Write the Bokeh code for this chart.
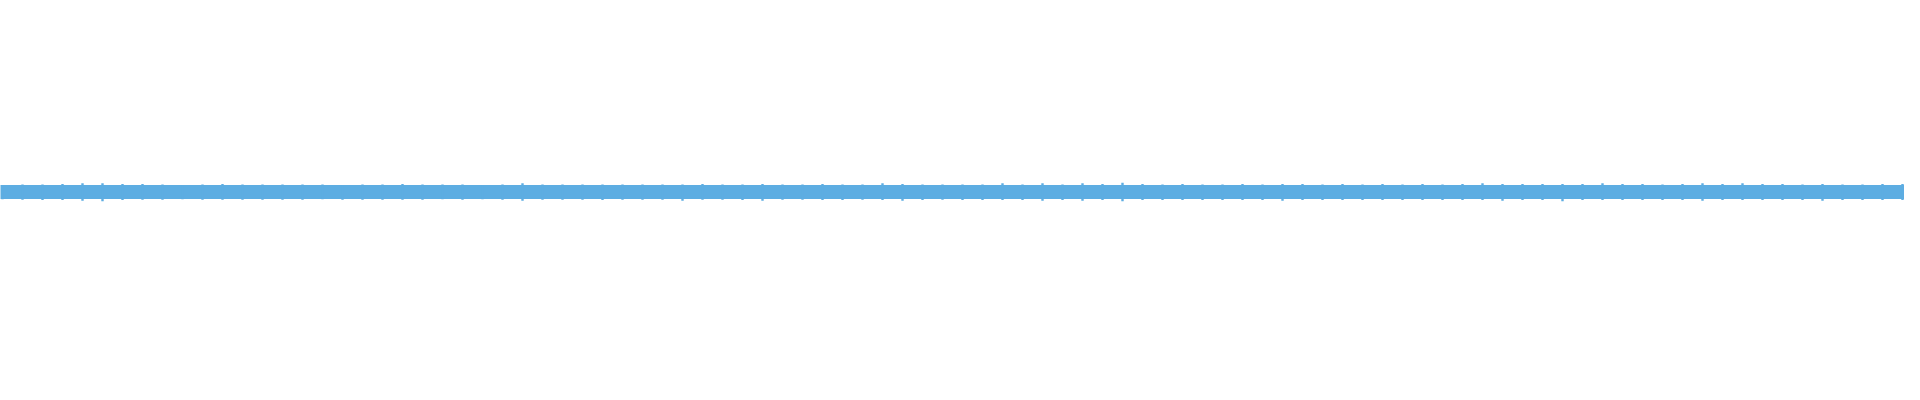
from bokeh.plotting import figure
from bokeh.models import ColumnDataSource
from bokeh.embed import file_html
from bokeh.resources import INLINE

# Waveform envelope, 96 bins across the track (amplitude as fraction of full scale, 1 px = 0.005)
core_hi = [0.0380] * 97
core_lo = [0.0320] * 97

peak_hi_px = [7.4, 8.0, 8.0, 8.6, 9.2, 9.2, 8.6, 8.6, 8.0, 7.6, 8.0, 8.6, 8.0, 8.0, 8.0, 8.0, 8.0, 7.6, 8.0, 8.0, 8.6, 8.0, 8.0, 8.0,
              7.6, 8.0, 9.2, 8.0, 8.0, 8.0, 8.0, 8.0, 8.0, 8.0, 8.0, 8.6, 8.0, 8.0, 8.6, 8.0, 8.0, 8.6, 8.0, 8.0, 9.2, 8.6, 8.0, 8.0,
              8.0, 8.0, 9.2, 8.0, 9.2, 8.0, 9.2, 8.6, 9.8, 8.6, 8.0, 8.6, 8.0, 8.0, 8.6, 8.0, 8.6, 8.6, 8.0, 8.6, 8.0, 8.6, 8.0, 8.6,
              8.0, 8.6, 9.2, 8.6, 8.6, 8.6, 8.6, 8.6, 9.2, 8.6, 8.6, 8.0, 8.6, 9.2, 8.6, 9.2, 8.6, 8.6, 8.0, 8.6, 8.0, 8.0, 8.6, 8.6]
peak_lo_px = [6.8, 7.2, 7.6, 7.6, 8.2, 8.8, 7.6, 7.2, 7.2, 6.8, 7.2, 7.2, 7.2, 7.2, 7.2, 7.2, 6.8, 7.2, 7.2, 7.2, 7.2, 7.2, 6.8, 7.2,
              6.8, 7.2, 8.2, 7.2, 7.2, 7.2, 7.6, 7.2, 7.2, 7.2, 8.2, 7.2, 7.2, 7.6, 8.2, 7.2, 7.2, 7.6, 7.6, 7.2, 7.6, 8.2, 7.6, 7.2,
              7.6, 7.6, 7.6, 7.6, 8.2, 7.6, 8.2, 7.6, 8.8, 7.6, 7.6, 7.6, 7.6, 7.6, 7.6, 7.6, 8.2, 7.6, 7.6, 7.6, 7.6, 7.6, 7.6, 7.6,
              7.6, 7.6, 7.6, 8.2, 7.6, 7.6, 8.8, 7.6, 7.6, 7.6, 7.6, 7.6, 7.6, 8.2, 7.6, 7.6, 7.6, 7.6, 7.6, 8.2, 7.6, 7.6, 7.6, 7.6]

peak_hi = [v * 0.005 for v in peak_hi_px]
peak_lo = [v * 0.005 for v in peak_lo_px]
bins = [i + 0.5 for i in range(96)]
edges = list(range(97))

COLOR = "#5DADE2"

peaks = ColumnDataSource(dict(x=bins, top=peak_hi, bot=[-v for v in peak_lo]))

p = figure(width=1904, height=384, x_range=(0.4, 95.6), y_range=(-0.96, 0.96),
           output_backend="svg", toolbar_location=None,
           x_axis_location=None, y_axis_location=None, min_border=0)
p.grid.visible = False
p.outline_line_color = None
p.background_fill_color = "white"
p.border_fill_color = "white"

p.varea(x=edges, y1=[-v for v in core_lo], y2=core_hi, fill_color=COLOR)
p.vbar(x="x", width=0.12, top="top", bottom="bot", source=peaks,
       fill_color=COLOR, line_color=None)

open("out.html", "w").write(file_html(p, INLINE))
